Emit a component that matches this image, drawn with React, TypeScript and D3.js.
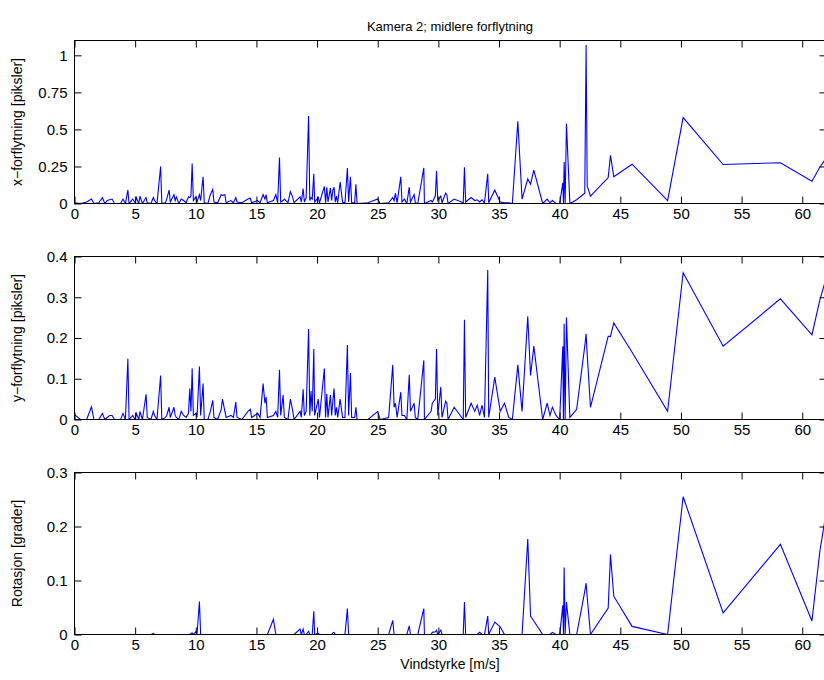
import { useEffect, useRef } from 'react';
import * as d3 from 'd3';

// wind speed (m/s) of each sample
const windSpeed = [
  0.0, 0.5, 1.0, 1.4, 1.6, 2.0, 2.3, 2.5, 2.7, 2.9,
  3.1, 3.3, 3.8, 4.0, 4.2, 4.4, 4.5, 4.8, 5.0, 5.1,
  5.3, 5.4, 5.6, 5.9, 6.0, 6.3, 6.5, 6.6, 6.8, 7.1,
  7.2, 7.5, 7.6, 7.8, 7.9, 8.2, 8.3, 8.4, 8.6, 8.8,
  9.0, 9.2, 9.4, 9.5, 9.6, 9.7, 9.8, 10.0, 10.1, 10.3,
  10.4, 10.6, 10.7, 11.0, 11.2, 11.4, 11.5, 11.8, 12.1, 12.2,
  12.4, 12.5, 12.9, 13.1, 13.3, 13.4, 13.8, 14.3, 14.5, 14.6,
  15.1, 15.3, 15.55, 15.7, 15.8, 15.9, 16.4, 16.6, 16.75, 16.9,
  17.0, 17.2, 17.3, 17.6, 17.8, 18.0, 18.1, 18.6, 18.7, 18.85,
  18.95, 19.1, 19.3, 19.4, 19.5, 19.6, 19.73, 19.8, 20.1, 20.2,
  20.6, 20.7, 20.8, 20.9, 21.1, 21.2, 21.3, 21.4, 21.5, 21.6,
  21.7, 21.9, 22.1, 22.3, 22.5, 22.6, 22.75, 22.85, 23.1, 23.2,
  23.3, 24.2, 25.0, 25.2, 25.9, 26.24, 26.35, 26.46, 26.6, 26.9,
  27.0, 27.2, 27.4, 27.6, 27.7, 28.0, 28.1, 28.3, 28.8, 28.85,
  29.4, 29.5, 29.75, 29.85, 29.95, 30.2, 30.3, 30.6, 30.7, 30.8,
  31.3, 32.05, 32.15, 32.25, 32.7, 33.0, 33.2, 33.4, 33.6, 33.8,
  34.07, 34.15, 34.65, 35.1, 35.45, 35.8, 36.1, 36.55, 36.9, 37.37,
  37.6, 37.87, 38.6, 38.97, 39.2, 39.4, 39.7, 40.0, 40.26, 40.31,
  40.37, 40.45, 40.56, 40.84, 41.4, 42.07, 42.18, 42.27, 42.54, 44.0,
  44.19, 44.46, 45.97, 48.9, 50.18, 53.48, 58.2, 60.8, 61.45, 62.0,
];

// x-displacement [pixels]
const xDisp = [
  0.005, 0, 0.01, 0.03, 0, 0.005, 0.04, 0, 0.02, 0.025,
  0.03, 0, 0, 0.03, 0, 0.09, 0, 0.03, 0.005, 0.04,
  0, 0.05, 0, 0.04, 0.005, 0, 0.04, 0.02, 0, 0.25,
  0, 0.005, 0.03, 0.09, 0.01, 0.06, 0.02, 0.045, 0, 0.03,
  0.02, 0.005, 0.045, 0.04, 0.05, 0.27, 0.02, 0.045, 0.01, 0.06,
  0.02, 0.18, 0.005, 0, 0.06, 0.095, 0.01, 0.005, 0.06, 0.055,
  0.06, 0.005, 0.02, 0.005, 0.04, 0.01, 0.005, 0.03, 0.035, 0.005,
  0.02, 0.005, 0.06, 0.03, 0.06, 0.005, 0.02, 0.06, 0.005, 0.31,
  0.01, 0.02, 0.03, 0.005, 0.08, 0.04, 0.005, 0.045, 0.01, 0.1,
  0.01, 0.04, 0.59, 0.02, 0.04, 0.03, 0.2, 0.01, 0.04, 0.005,
  0.115, 0.005, 0.11, 0.01, 0.105, 0.02, 0.09, 0.11, 0.01, 0.05,
  0.005, 0.145, 0.01, 0.005, 0.24, 0.01, 0.18, 0.005, 0.005, 0.13,
  0, 0.005, 0.03, 0, 0.005, 0.04, 0.02, 0.07, 0.005, 0.18,
  0.01, 0.03, 0, 0.11, 0.01, 0.06, 0.005, 0, 0.24, 0,
  0.02, 0.01, 0.05, 0.22, 0.02, 0.05, 0.005, 0.07, 0.06, 0,
  0.03, 0.005, 0.245, 0.01, 0.04, 0.02, 0.025, 0.01, 0.025, 0.005,
  0.2, 0.005, 0.09, 0.01, 0.005, 0.005, 0, 0.555, 0.03, 0.165,
  0.13, 0.225, 0, 0.03, 0.005, 0.02, 0, 0, 0.14, 0,
  0.28, 0, 0.54, 0, 0.025, 0.07, 1.07, 0.12, 0.05, 0.175,
  0.325, 0.18, 0.265, 0.02, 0.58, 0.263, 0.275, 0.15, 0.245, 0.31,
];

// y-displacement [pixels]
const yDisp = [
  0.012, 0, 0, 0.031, 0, 0, 0.015, 0, 0.005, 0.01,
  0.01, 0, 0, 0.015, 0, 0.149, 0, 0.01, 0, 0.015,
  0, 0.02, 0, 0.062, 0.005, 0, 0.02, 0.01, 0, 0.108,
  0, 0.005, 0.01, 0.03, 0.005, 0.03, 0.01, 0.005, 0, 0.02,
  0.01, 0.005, 0.015, 0.076, 0.02, 0.126, 0.01, 0.015, 0.005, 0.13,
  0.01, 0.088, 0, 0, 0.02, 0.047, 0.005, 0, 0.025, 0.05,
  0.02, 0.005, 0.01, 0.005, 0.043, 0.005, 0, 0.02, 0.025, 0.005,
  0.015, 0.005, 0.088, 0.04, 0.055, 0.005, 0.01, 0.02, 0.005, 0.122,
  0.01, 0.06, 0.005, 0, 0.05, 0.02, 0, 0.02, 0.005, 0.074,
  0.01, 0.02, 0.222, 0.01, 0.07, 0.02, 0.173, 0.01, 0.05, 0.005,
  0.125, 0.005, 0.063, 0.005, 0.06, 0.01, 0.045, 0.076, 0.01, 0.03,
  0.005, 0.05, 0.005, 0.005, 0.183, 0.01, 0.114, 0.005, 0.005, 0.03,
  0, 0, 0.02, 0, 0.005, 0.134, 0.03, 0.04, 0.005, 0.067,
  0.01, 0.01, 0, 0.11, 0.02, 0.04, 0.005, 0, 0.145, 0,
  0.02, 0.04, 0.05, 0.173, 0.01, 0.08, 0.005, 0.045, 0.04, 0,
  0.03, 0, 0.245, 0.005, 0.04, 0.02, 0.035, 0.01, 0.035, 0.005,
  0.367, 0.005, 0.104, 0.02, 0.04, 0.005, 0, 0.134, 0.02, 0.253,
  0.108, 0.18, 0, 0.04, 0.01, 0.03, 0.01, 0, 0.18, 0,
  0.235, 0, 0.25, 0.005, 0.025, 0.18, 0.21, 0.16, 0.03, 0.204,
  0.204, 0.237, 0.165, 0.02, 0.36, 0.18, 0.296, 0.208, 0.293, 0.35,
];

// rotation [degrees]
const rotation = [
  0, 0, 0, 0, 0, 0, 0, 0, 0, 0,
  0, 0, 0, 0, 0, 0, 0, 0, 0, 0,
  0, 0, 0, 0, 0, 0, 0.002, 0, 0, 0,
  0, 0, 0, 0, 0, 0, 0, 0, 0, 0,
  0, 0, 0, 0, 0.002, 0.003, 0, 0.005, 0, 0.061,
  0, 0, 0, 0, 0, 0, 0, 0, 0, 0,
  0, 0, 0, 0, 0, 0, 0, 0, 0, 0,
  0, 0, 0, 0, 0, 0, 0.028, 0, 0, 0,
  0, 0, 0, 0, 0, 0, 0, 0.01, 0, 0.01,
  0, 0, 0.006, 0, 0, 0, 0.043, 0, 0.002, 0,
  0, 0, 0, 0, 0, 0, 0.003, 0.004, 0, 0,
  0, 0, 0, 0, 0.048, 0, 0, 0, 0, 0,
  0, 0, 0, 0, 0, 0.026, 0, 0, 0, 0,
  0, 0, 0, 0.016, 0, 0, 0, 0, 0.048, 0,
  0, 0.004, 0.005, 0.008, 0, 0.008, 0, 0, 0, 0,
  0, 0, 0.06, 0, 0, 0, 0, 0.004, 0, 0,
  0.034, 0, 0.023, 0.014, 0, 0, 0, 0, 0, 0.177,
  0.034, 0.025, 0, 0, 0, 0.004, 0, 0, 0.054, 0,
  0.124, 0, 0.06, 0, 0, 0.08, 0.095, 0.07, 0, 0.049,
  0.148, 0.071, 0.015, 0, 0.255, 0.04, 0.167, 0.025, 0.154, 0.23,
];

const xTicks = [0, 5, 10, 15, 20, 25, 30, 35, 40, 45, 50, 55, 60];
const xTickTop = [0, 0.25, 0.5, 0.75, 1];
const yTickMid = [0, 0.1, 0.2, 0.3, 0.4];
const yTickBot = [0, 0.1, 0.2, 0.3];

const title = 'Kamera 2; midlere forflytning';
const xLabel = 'Vindstyrke [m/s]';

const panels = [
  { values: xDisp, yMax: 1.1, ticks: xTickTop, label: 'x\u2212forflytning [piksler]', top: 40.5, bottom: 203.5 },
  { values: yDisp, yMax: 0.4, ticks: yTickMid, label: 'y\u2212forflytning [piksler]', top: 256.5, bottom: 419.5 },
  { values: rotation, yMax: 0.3, ticks: yTickBot, label: 'Rotasjon [grader]', top: 472.5, bottom: 634.5 },
];

const W = 824;
const H = 680;
const FONT = '"Liberation Sans", Arial, Helvetica, sans-serif';

const App = () => {
  const ref = useRef<SVGSVGElement>(null);

  useEffect(() => {
    const svg = d3.select(ref.current);
    svg.selectAll('*').remove();

    const left = 74.5;
    const right = 826.5;
    const x = d3.scaleLinear().domain([0, 62]).range([left, right]);
    const tick = 7;

    svg.append('rect').attr('width', W).attr('height', H).attr('fill', 'white');

    panels.forEach((p, i) => {
      const y = d3.scaleLinear().domain([0, p.yMax]).range([p.bottom, p.top]);
      const g = svg.append('g');

      g.append('clipPath')
        .attr('id', `clip${i}`)
        .append('rect')
        .attr('x', left)
        .attr('y', p.top)
        .attr('width', right - left)
        .attr('height', p.bottom - p.top);

      const line = d3.line<number>()
        .x((_, k) => x(windSpeed[k]))
        .y((d) => y(d));

      g.append('path')
        .datum(p.values)
        .attr('clip-path', `url(#clip${i})`)
        .attr('fill', 'none')
        .attr('stroke', '#0000ff')
        .attr('stroke-width', 1.1)
        .attr('d', line);

      // bottom axis with labels
      const bx = g.append('g')
        .attr('transform', `translate(0,${p.bottom})`)
        .call(d3.axisBottom(x).tickValues(xTicks).tickSizeInner(-tick).tickSizeOuter(0).tickPadding(5).tickFormat(d3.format('d')));
      // top axis ticks only
      const tx = g.append('g')
        .attr('transform', `translate(0,${p.top})`)
        .call(d3.axisTop(x).tickValues(xTicks).tickSizeInner(-tick).tickSizeOuter(0).tickFormat(() => ''));
      // left axis
      const ly = g.append('g')
        .attr('transform', `translate(${left},0)`)
        .call(d3.axisLeft(y).tickValues(p.ticks).tickSizeInner(-tick).tickSizeOuter(0).tickPadding(7).tickFormat((d) => String(+d)));
      // right axis ticks only
      const ry = g.append('g')
        .attr('transform', `translate(${right},0)`)
        .call(d3.axisRight(y).tickValues(p.ticks).tickSizeInner(-tick).tickSizeOuter(0).tickFormat(() => ''));

      [bx, tx, ly, ry].forEach((a) => {
        a.select('.domain').remove();
        a.selectAll('line').attr('stroke', '#000');
        a.selectAll('text').attr('fill', '#000').style('font-family', FONT).style('font-size', '15px');
      });

      g.append('rect')
        .attr('x', left)
        .attr('y', p.top)
        .attr('width', right - left)
        .attr('height', p.bottom - p.top)
        .attr('fill', 'none')
        .attr('stroke', '#000')
        .attr('stroke-width', 1);

      g.append('text')
        .attr('transform', `translate(22,${(p.top + p.bottom) / 2}) rotate(-90)`)
        .attr('text-anchor', 'middle')
        .style('font-family', FONT)
        .style('font-size', '14px')
        .text(p.label);
    });

    svg.append('text')
      .attr('x', 450)
      .attr('y', 31)
      .attr('text-anchor', 'middle')
      .style('font-family', FONT)
      .style('font-size', '13px')
      .text(title);

    svg.append('text')
      .attr('x', 450)
      .attr('y', 669)
      .attr('text-anchor', 'middle')
      .style('font-family', FONT)
      .style('font-size', '14px')
      .text(xLabel);
  }, []);

  return (
    <div style={{ position: 'absolute', left: 0, top: 0 }}>
      <svg ref={ref} width={W} height={H} style={{ display: 'block' }} />
    </div>
  );
};

export default App;
